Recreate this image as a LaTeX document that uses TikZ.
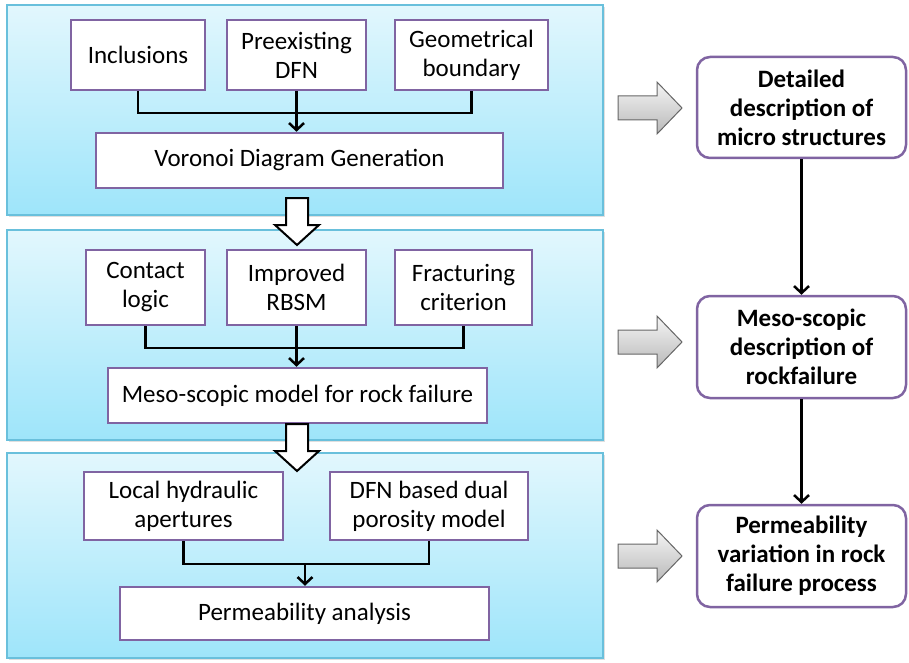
\documentclass[tikz,border=0pt]{standalone}
\usepackage{fontspec}
\setmainfont{Carlito}
\usetikzlibrary{arrows.meta,shadows}

\definecolor{boxline}{RGB}{128,100,162}
\definecolor{panelline}{RGB}{105,192,220}
\definecolor{paneltop}{RGB}{226,247,253}
\definecolor{panelbot}{RGB}{158,229,250}

\tikzset{
  panel/.style={draw=panelline, line width=1.5pt, top color=paneltop, bottom color=panelbot,
    drop shadow={opacity=0.25, shadow xshift=2pt, shadow yshift=-2pt}},
  item/.style={draw=boxline, line width=2.5pt, fill=white, align=center, inner sep=0pt,
    font=\fontsize{25}{29}\selectfont},
  goal/.style={item, rounded corners=13pt, font=\fontsize{25}{29}\selectfont\bfseries},
  wire/.style={line width=2.5pt},
  link/.style={wire, -{Straight Barb[length=7pt,width=15pt,line width=2.5pt]}},
  hollow/.pic={
    \draw[line width=2pt, fill=white, line join=miter]
      (-11,0) -- (11,0) -- (11,27) -- (22,27) -- (0,47) -- (-22,27) -- (-11,27) -- cycle;
  },
  grayarrow/.pic={
    \draw[draw=gray!80!black, line width=1pt, top color=gray!8, bottom color=gray!55]
      (0,-12) -- (39,-12) -- (39,-26) -- (64,0) -- (39,26) -- (39,12) -- (0,12) -- cycle;
  }
}

\begin{document}
\begin{tikzpicture}[x=1pt,y=-1pt]
\useasboundingbox (0,0) rectangle (909,663);

% three stages
\draw [panel] (7,5) rectangle (603,215);
\draw [panel] (7,230) rectangle (603,440);
\draw [panel] (7,453) rectangle (603,658);

% stage 1
\node [item, minimum width=134, minimum height=70] (incl) at (138,55) {Inclusions};
\node [item, minimum width=139, minimum height=70] (pre) at (296.5,55) {Preexisting\\DFN};
\node [item, minimum width=153, minimum height=70] (geom) at (471.5,55) {Geometrical\\boundary};
\node [item, minimum width=407, minimum height=55] (vor) at (299.5,160.5) {Voronoi Diagram Generation};
\coordinate (bus1) at (296.5,113);
\draw [wire] (incl.south) |- (bus1) -| (geom.south);
\draw [link] (pre.south) -- (pre.south |- vor.north);

% stage 2
\node [item, minimum width=119, minimum height=75] (cont) at (145.5,287.5) {Contact\\logic};
\node [item, minimum width=139, minimum height=75] (rbsm) at (296.5,287.5) {Improved\\RBSM};
\node [item, minimum width=137, minimum height=75] (frac) at (463.5,287.5) {Fracturing\\criterion};
\node [item, minimum width=379, minimum height=55] (meso) at (297.5,395.5) {Meso-scopic model for rock failure};
\coordinate (bus2) at (296.5,348);
\draw [wire] (cont.south) |- (bus2) -| (frac.south);
\draw [link] (rbsm.south) -- (rbsm.south |- meso.north);

% stage 3
\node [item, minimum width=199, minimum height=68] (loc) at (183.5,506) {Local hydraulic\\apertures};
\node [item, minimum width=198, minimum height=68] (dual) at (429,506) {DFN based dual\\porosity model};
\node [item, minimum width=369, minimum height=53] (perm) at (304.5,613.5) {Permeability analysis};
\coordinate (bus3) at (305,564);
\draw [wire] (loc.south) |- (bus3) -| (dual.south);
\draw [link] (bus3) -- (bus3 |- perm.north);

% between stages
\pic at (297,198) {hollow};
\pic at (297,424) {hollow};

% results
\node [goal, minimum width=209, minimum height=101] (det) at (801.5,107.5) {Detailed\\description of\\micro structures};
\node [goal, minimum width=209, minimum height=102] (mdes) at (801.5,347) {Meso-scopic\\description of\\rockfailure};
\node [goal, minimum width=209, minimum height=102] (var) at (801.5,556) {Permeability\\variation in rock\\failure process};
\draw [link] (det) -- (mdes);
\draw [link] (mdes) -- (var);

\pic at (618,108) {grayarrow};
\pic at (618,342) {grayarrow};
\pic at (618,556) {grayarrow};
\end{tikzpicture}
\end{document}
